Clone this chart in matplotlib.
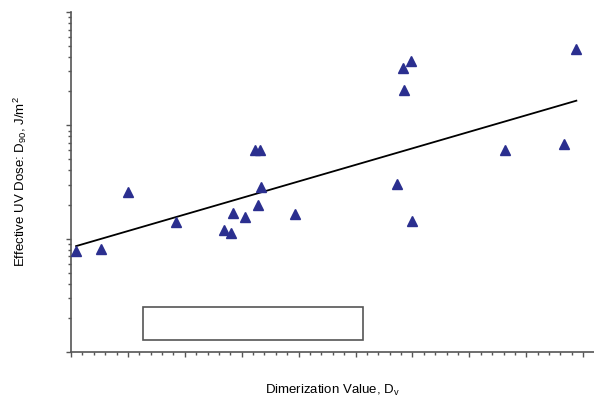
import numpy as np
import matplotlib
matplotlib.use("Agg")
from matplotlib import pyplot as plt
from matplotlib.patches import Rectangle
from matplotlib.ticker import MultipleLocator, LogLocator, NullFormatter

plt.rcParams['font.family'] = ['Liberation Sans', 'DejaVu Sans']

# dimerization value (x) and effective UV dose D90 (y)
dimer = [0.09, 0.52, 1.00, 1.85, 2.68, 2.82, 2.84, 3.06, 3.23, 3.32, 3.29,
         3.33, 3.94, 5.72, 5.84, 5.97, 5.86, 5.99, 7.63, 8.67, 8.88]
dose = [7.8, 8.1, 25.9, 14.0, 12.0, 11.2, 17.0, 15.6, 60.9, 60.9, 19.9,
        28.5, 16.6, 30.3, 321, 372, 206, 14.3, 60.9, 67.8, 472]

# trend line ends
trend_x = [0.09, 8.88]
trend_y = [8.6, 165]

fig = plt.figure(figsize=(5.94, 3.98), dpi=100)
ax = fig.add_axes([71/594, 46/398, 523/594, 340/398])

ax.plot(dimer, dose, '^', color='#2B2F8F', ms=7, mec='#2B2F8F', zorder=3)
ax.plot(trend_x, trend_y, color='black', lw=1.3, zorder=2)

ax.set_yscale('log')
ax.set_ylim(1, 1000)
ax.set_xlim(0, 9.19)

ax.xaxis.set_major_locator(MultipleLocator(1))
ax.xaxis.set_minor_locator(MultipleLocator(0.2))
ax.yaxis.set_major_locator(LogLocator(base=10))
ax.yaxis.set_minor_locator(LogLocator(base=10, subs=np.arange(2, 10)))
ax.xaxis.set_major_formatter(NullFormatter())
ax.yaxis.set_major_formatter(NullFormatter())
ax.yaxis.set_minor_formatter(NullFormatter())

for s in ['top', 'right']:
    ax.spines[s].set_visible(False)
for s in ['left', 'bottom']:
    ax.spines[s].set_color('#555555')
    ax.spines[s].set_linewidth(1.2)
ax.tick_params(which='major', length=3.5, width=1, color='#555555')
ax.tick_params(which='minor', length=2.5, width=1, color='#555555')

# empty legend box
ax.add_patch(Rectangle((0.138, 0.035), 0.42, 0.097, transform=ax.transAxes,
                       fill=False, edgecolor='#555555', lw=1.2))

ax.set_xlabel('Dimerization Value, D$_\\mathregular{v}$', fontsize=9.5, labelpad=15)
ax.set_ylabel('Effective UV Dose: D$_\\mathregular{90}$, J/m$^\\mathregular{2}$',
              fontsize=9.5, labelpad=23)

fig.savefig('out.png', dpi=100)
